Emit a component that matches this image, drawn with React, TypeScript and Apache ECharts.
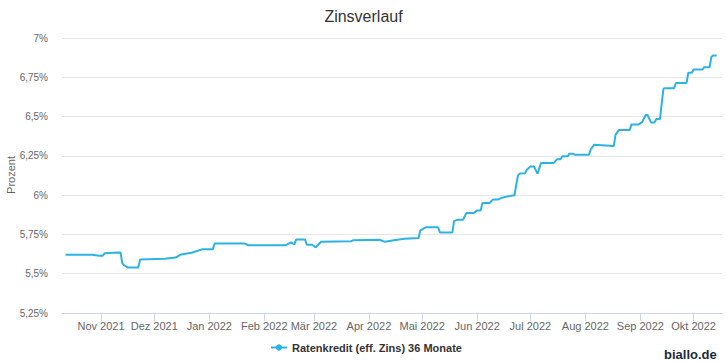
import React, { useEffect, useRef } from "react";
import * as echarts from "echarts";

const TITLE = "Zinsverlauf";
const SERIES_NAME = "Ratenkredit (eff. Zins) 36 Monate";
const Y_NAME = "Prozent";
const CREDIT = "biallo.de";
const MONTHS = ["Jan", "Feb", "Mär", "Apr", "Mai", "Jun", "Jul", "Aug", "Sep", "Okt", "Nov", "Dez"];

const tickDates: string[] = [
  "2021-11-01", "2021-12-01", "2022-01-01", "2022-02-01", "2022-03-01", "2022-04-01",
  "2022-05-01", "2022-06-01", "2022-07-01", "2022-08-01", "2022-09-01", "2022-10-01",
];

const dates: string[] = [
  "2021-10-12", "2021-10-27", "2021-10-31", "2021-11-02", "2021-11-03", "2021-11-08",
  "2021-11-12", "2021-11-13", "2021-11-14", "2021-11-16", "2021-11-22", "2021-11-23",
  "2021-12-07", "2021-12-13", "2021-12-16", "2021-12-22", "2021-12-28", "2022-01-03",
  "2022-01-04", "2022-01-21", "2022-01-23", "2022-02-13", "2022-02-16", "2022-02-18",
  "2022-02-19", "2022-02-24", "2022-02-25", "2022-02-28", "2022-03-02", "2022-03-05",
  "2022-03-22", "2022-03-23", "2022-04-07", "2022-04-10", "2022-04-15", "2022-04-21",
  "2022-04-29", "2022-04-30", "2022-05-03", "2022-05-10", "2022-05-11", "2022-05-18",
  "2022-05-19", "2022-05-21", "2022-05-24", "2022-05-26", "2022-05-30", "2022-06-01",
  "2022-06-03", "2022-06-04", "2022-06-08", "2022-06-10", "2022-06-13", "2022-06-15",
  "2022-06-18", "2022-06-22", "2022-06-24", "2022-06-25", "2022-06-28", "2022-06-29",
  "2022-07-01", "2022-07-03", "2022-07-05", "2022-07-07", "2022-07-14", "2022-07-16",
  "2022-07-18", "2022-07-19", "2022-07-22", "2022-07-23", "2022-07-25", "2022-07-26",
  "2022-08-03", "2022-08-04", "2022-08-06", "2022-08-17", "2022-08-18", "2022-08-20",
  "2022-08-26", "2022-08-27", "2022-08-31", "2022-09-02", "2022-09-04", "2022-09-05",
  "2022-09-07", "2022-09-09", "2022-09-10", "2022-09-12", "2022-09-14", "2022-09-15",
  "2022-09-20", "2022-09-21", "2022-09-27", "2022-09-28", "2022-09-30", "2022-10-01",
  "2022-10-06", "2022-10-07", "2022-10-10", "2022-10-11", "2022-10-12", "2022-10-14",
];

const rates: number[] = [
  5.62, 5.62, 5.615, 5.615, 5.63, 5.633,
  5.635, 5.565, 5.554, 5.54, 5.54, 5.59,
  5.595, 5.603, 5.622, 5.633, 5.655, 5.655,
  5.692, 5.692, 5.681, 5.681, 5.7, 5.687,
  5.718, 5.718, 5.684, 5.684, 5.668, 5.703,
  5.706, 5.713, 5.716, 5.703, 5.713, 5.722,
  5.727, 5.776, 5.795, 5.795, 5.762, 5.762,
  5.835, 5.844, 5.844, 5.886, 5.886, 5.903,
  5.903, 5.95, 5.95, 5.973, 5.973, 5.984,
  5.992, 5.999, 6.126, 6.137, 6.14, 6.162,
  6.183, 6.183, 6.137, 6.204, 6.204, 6.228,
  6.228, 6.247, 6.247, 6.264, 6.264, 6.257,
  6.257, 6.291, 6.321, 6.312, 6.385, 6.415,
  6.415, 6.45, 6.45, 6.465, 6.51, 6.51,
  6.463, 6.463, 6.484, 6.484, 6.677, 6.681,
  6.681, 6.713, 6.713, 6.779, 6.779, 6.8,
  6.8, 6.814, 6.814, 6.88, 6.889, 6.889,
];

const X_MIN = "2021-10-10";
const X_MAX = "2022-10-17";
const Y_MIN = 5.25;
const Y_MAX = 7;
const Y_STEP = 0.25;

function ts(s: string): number {
  const [y, m, d] = s.split("-").map(Number);
  return new Date(y, m - 1, d).getTime();
}

export default function App() {
  const ref = useRef<HTMLDivElement>(null);
  useEffect(() => {
    if (!ref.current) return;
    const chart = echarts.init(ref.current, null, { renderer: "svg" });
    const font = "'Liberation Sans', Arial, sans-serif";
    const ticks = tickDates.map(ts);
    chart.setOption({
      animation: false,
      backgroundColor: "#ffffff",
      textStyle: { fontFamily: font },
      title: {
        text: TITLE,
        left: "center",
        top: 3,
        textStyle: { fontSize: 16, fontWeight: "normal", color: "#333333", fontFamily: font },
      },
      legend: {
        bottom: 5,
        left: 265,
        itemWidth: 16,
        itemHeight: 8,
        itemGap: 10,
        textStyle: { fontSize: 11, fontWeight: "bold", color: "#333333", fontFamily: font },
        data: [SERIES_NAME],
      },
      grid: { left: 62, right: 5, top: 38, bottom: 50, containLabel: false, outerBoundsMode: "none" },
      xAxis: {
        type: "value",
        min: ts(X_MIN),
        max: ts(X_MAX),
        splitLine: { show: false },
        axisLine: { show: true, lineStyle: { color: "#ccd6eb", width: 1 } },
        axisTick: { show: true, length: 8, customValues: ticks, lineStyle: { color: "#ccd6eb" } },
        axisLabel: {
          color: "#666666",
          fontSize: 11,
          margin: 7,
          customValues: ticks,
          formatter: (v: number) => {
            const d = new Date(v);
            return MONTHS[d.getMonth()] + " " + d.getFullYear();
          },
        },
      },
      yAxis: {
        type: "value",
        min: Y_MIN,
        max: Y_MAX,
        interval: Y_STEP,
        axisLine: { show: false },
        axisTick: { show: false },
        splitLine: { lineStyle: { color: "#e6e6e6" } },
        axisLabel: {
          color: "#666666",
          fontSize: 10,
          margin: 14,
          formatter: (v: number) => String(Math.round(v * 100) / 100).replace(".", ",") + "%",
        },
      },
      series: [
        {
          name: SERIES_NAME,
          type: "line",
          data: dates.map((d, i) => [ts(d), rates[i]]),
          showSymbol: false,
          symbol: "circle",
          symbolSize: 7,
          itemStyle: { color: "#2db3e3" },
          lineStyle: { color: "#2db3e3", width: 2 },
        },
      ],
      graphic: [
        {
          type: "text",
          x: 11,
          y: 175,
          rotation: Math.PI / 2,
          style: {
            text: Y_NAME,
            fontSize: 11,
            fill: "#666666",
            fontFamily: font,
            align: "center",
            verticalAlign: "middle",
          },
        },
        {
          type: "text",
          left: 664,
          top: 348,
          style: { text: CREDIT, fontSize: 13, fontWeight: "bold", fill: "#1c2a3a", fontFamily: font },
        },
      ],
    });
    return () => chart.dispose();
  }, []);
  return <div ref={ref} style={{ width: 727, height: 363, position: "absolute", left: 0, top: 0 }} />;
}
